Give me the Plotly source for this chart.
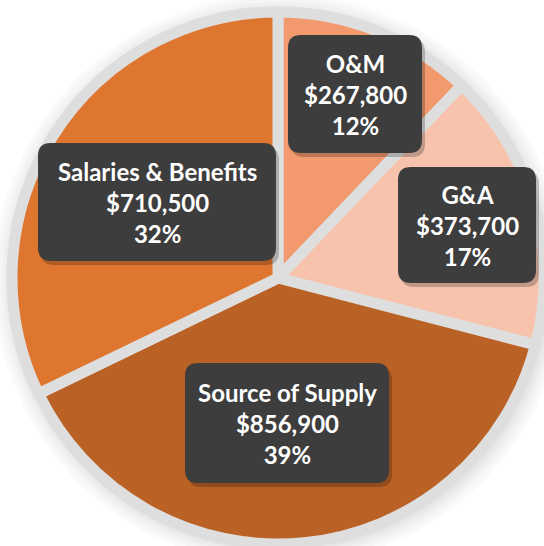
import plotly.graph_objects as go

# Data
categories = ["O&M", "G&A", "Source of Supply", "Salaries & Benefits"]
values = [267800, 373700, 856900, 710500]
colors = ["#F2996E", "#F7C3AD", "#BA6125", "#DF762F"]

W, H = 544, 546
total = sum(values)

# label box centres (pixels) and box sizes
box_centers = [(355, 94), (467, 225), (287, 423), (157, 202)]
box_sizes = [(134, 118), (138, 116), (204, 120), (238, 118)]

def px(x):
    return x / W

def py(y):
    return 1 - y / H

def rounded_rect(cx, cy, w, h, r=13):
    x0, x1 = cx - w / 2, cx + w / 2
    y0, y1 = cy - h / 2, cy + h / 2
    pts = [
        f"M {px(x0 + r)} {py(y0)}",
        f"L {px(x1 - r)} {py(y0)}",
        f"Q {px(x1)} {py(y0)} {px(x1)} {py(y0 + r)}",
        f"L {px(x1)} {py(y1 - r)}",
        f"Q {px(x1)} {py(y1)} {px(x1 - r)} {py(y1)}",
        f"L {px(x0 + r)} {py(y1)}",
        f"Q {px(x0)} {py(y1)} {px(x0)} {py(y1 - r)}",
        f"L {px(x0)} {py(y0 + r)}",
        f"Q {px(x0)} {py(y0)} {px(x0 + r)} {py(y0)}",
        "Z",
    ]
    return " ".join(pts)

fig = go.Figure(
    go.Pie(
        labels=categories,
        values=values,
        sort=False,
        direction="clockwise",
        rotation=0,
        textinfo="none",
        hoverinfo="label+value+percent",
        marker=dict(colors=colors, line=dict(color="#DEDEDE", width=11)),
        domain=dict(x=[12 / W, 1], y=[0, 1 - 10 / H]),
        showlegend=False,
    )
)

shapes = []
# soft shadow behind the pie
cxp, cyp, rp = 278, 278, 266
for extra in [20, 16, 12, 9, 6, 3]:
    shapes.append(dict(
        type="circle", xref="paper", yref="paper", layer="below",
        x0=px(cxp - rp - extra + 2), x1=px(cxp + rp + extra + 2),
        y0=py(cyp + rp + extra + 2), y1=py(cyp - rp - extra + 2),
        fillcolor="rgba(0,0,0,0.018)", line=dict(width=0),
    ))

annotations = []
for cat, val, (cx, cy), (bw, bh) in zip(categories, values, box_centers, box_sizes):
    # shadow
    shapes.append(dict(type="path", xref="paper", yref="paper", layer="above",
                       path=rounded_rect(cx + 3, cy + 4, bw, bh),
                       fillcolor="rgba(0,0,0,0.22)", line=dict(width=0)))
    shapes.append(dict(type="path", xref="paper", yref="paper", layer="above",
                       path=rounded_rect(cx, cy, bw, bh),
                       fillcolor="#3D3D3D", line=dict(width=0)))
    pct = round(val / total * 100)
    annotations.append(dict(
        x=px(cx), y=py(cy), xref="paper", yref="paper",
        text=f"<b>{cat}<br>${val:,.0f}<br>{pct}%</b>",
        showarrow=False, align="center",
        font=dict(family="Lato", size=24, color="white"),
        xanchor="center", yanchor="middle",
    ))

fig.update_layout(
    width=W, height=H, autosize=False,
    margin=dict(l=0, r=0, t=0, b=0),
    paper_bgcolor="white", plot_bgcolor="white",
    shapes=shapes, annotations=annotations,
)

fig.write_html(
    "out.html",
    config={"displayModeBar": False},
    post_script="document.body.style.margin='0';document.body.style.overflow='hidden';",
)
